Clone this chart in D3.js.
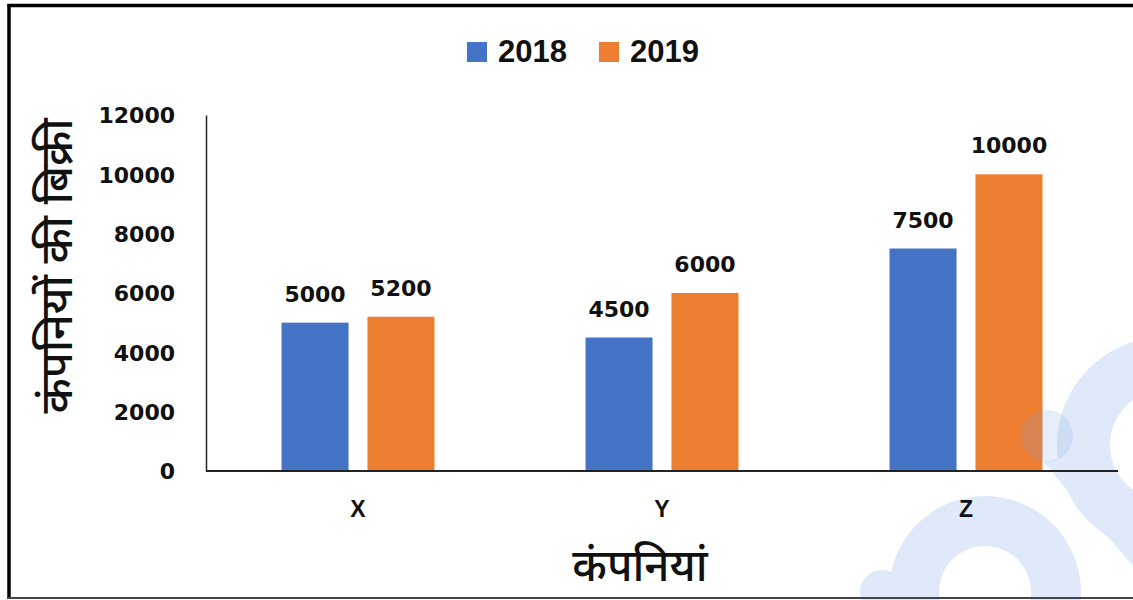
<!DOCTYPE html>
<html>
<head>
<meta charset="utf-8">
<script src="https://cdn.jsdelivr.net/npm/d3@7"></script>
<style>
  html, body { margin: 0; padding: 0; background: #fff; }
  svg { display: block; }
</style>
</head>
<body>
<svg id="chart" width="1133" height="600"></svg>
<script>
const categories = ["X", "Y", "Z"];
const seriesNames = ["2018", "2019"];
const sales2018 = [5000, 4500, 7500];
const sales2019 = [5200, 6000, 10000];
const yTicks = [0, 2000, 4000, 6000, 8000, 10000, 12000];
const yTitle = "कंपनियों की बिक्री";
const xTitle = "कंपनियां";
const colors = ["#4472C4", "#ED7D31"];

const svg = d3.select("#chart");
const W = 1133, H = 600;
const plot = { left: 206, right: 1118, top: 115, bottom: 471 };

const hindiFont = "'Noto Sans Devanagari', 'Noto Sans', 'Lohit Devanagari', sans-serif";
const numFont = "'DejaVu Sans', sans-serif";

// watermark (behind)
const wm = svg.append("g").attr("fill", "#dfe9f9");
function ringPath(cx, cy, ro, ri) {
  const p = d3.path();
  p.moveTo(cx + ro, cy); p.arc(cx, cy, ro, 0, 2 * Math.PI);
  p.moveTo(cx + ri, cy); p.arc(cx, cy, ri, 0, 2 * Math.PI);
  return p.toString();
}
wm.append("path").attr("d", ringPath(985, 592, 96, 46)).attr("fill-rule", "evenodd");
wm.append("circle").attr("cx", 882).attr("cy", 592).attr("r", 22);
wm.append("path").attr("d", ringPath(1165, 445, 108, 55)).attr("fill-rule", "evenodd");
wm.append("path").attr("d", "M1043,462 L1133,566 L1133,510 L1080,455 Z");

// scales
const x0 = d3.scaleBand().domain(categories).range([plot.left, plot.right])
  .paddingInner(0.497).paddingOuter(0.2485);
const x1 = d3.scaleBand().domain(seriesNames).range([0, x0.bandwidth()])
  .paddingInner(0.22).paddingOuter(0);
const y = d3.scaleLinear().domain([0, 12000]).range([plot.bottom, plot.top]);

const data = categories.map((c, i) => ({ cat: c, vals: [sales2018[i], sales2019[i]] }));

// bars
const groups = svg.append("g").selectAll("g").data(data).join("g")
  .attr("transform", d => `translate(${x0(d.cat)},0)`);
groups.selectAll("rect").data(d => d.vals.map((v, j) => ({ v, s: seriesNames[j], j })))
  .join("rect")
  .attr("x", d => x1(d.s))
  .attr("y", d => y(d.v))
  .attr("width", x1.bandwidth())
  .attr("height", d => y(0) - y(d.v))
  .attr("fill", d => colors[d.j]);
groups.selectAll("text").data(d => d.vals.map((v, j) => ({ v, s: seriesNames[j], j })))
  .join("text")
  .attr("x", d => x1(d.s) + x1.bandwidth() / 2)
  .attr("y", d => y(d.v) - 21)
  .attr("text-anchor", "middle")
  .attr("font-family", numFont)
  .attr("font-weight", "bold")
  .attr("font-size", 22)
  .attr("fill", "#111")
  .text(d => d.v);

// watermark overlay circle (on top, translucent)
svg.append("circle").attr("cx", 1047).attr("cy", 436).attr("r", 26)
  .attr("fill", "rgb(120,160,225)").attr("opacity", 0.18);

// y axis
const yAxis = d3.axisLeft(y).tickValues(yTicks).tickSize(0).tickPadding(31)
  .tickFormat(d3.format("d"));
const yg = svg.append("g").attr("transform", `translate(${plot.left},0)`).call(yAxis);
yg.select(".domain").attr("stroke", "#222").attr("stroke-width", 1.5);
yg.selectAll("text").attr("font-family", numFont).attr("font-weight", "bold")
  .attr("font-size", 22).attr("fill", "#111").attr("dy", "0.36em");

// x axis
const xAxis = d3.axisBottom(x0).tickSize(0).tickPadding(30);
const xg = svg.append("g").attr("transform", `translate(0,${plot.bottom})`).call(xAxis);
xg.select(".domain").attr("stroke", "#222").attr("stroke-width", 2)
  .attr("d", `M${plot.left},0H${plot.right}`);
xg.selectAll("text").attr("font-family", "'Liberation Sans', sans-serif").attr("font-weight", "bold")
  .attr("font-size", 23).attr("fill", "#111").attr("dy", "0.71em");

// axis titles
svg.append("text")
  .attr("transform", `translate(72,266) rotate(-90)`)
  .attr("text-anchor", "middle")
  .attr("font-family", hindiFont)
  .attr("font-size", 45)
  .attr("font-weight", 500)
  .attr("fill", "#111")
  .text(yTitle);
svg.append("text")
  .attr("x", 640).attr("y", 581)
  .attr("text-anchor", "middle")
  .attr("font-family", hindiFont)
  .attr("font-size", 44)
  .attr("font-weight", 500)
  .attr("fill", "#111")
  .text(xTitle);

// legend
const legendX = [467, 599];
const leg = svg.append("g");
seriesNames.forEach((s, i) => {
  leg.append("rect").attr("x", legendX[i]).attr("y", 42).attr("width", 20).attr("height", 20)
    .attr("fill", colors[i]);
  leg.append("text").attr("x", legendX[i] + 31).attr("y", 62)
    .attr("font-family", "'Liberation Sans', sans-serif").attr("font-weight", "bold")
    .attr("font-size", 31).attr("fill", "#111").text(s);
});

// outer frame
svg.append("line").attr("x1", 7.5).attr("x2", W).attr("y1", 5.5).attr("y2", 5.5)
  .attr("stroke", "#000").attr("stroke-width", 3.5);
svg.append("line").attr("x1", 9).attr("x2", 9).attr("y1", 4).attr("y2", 599)
  .attr("stroke", "#000").attr("stroke-width", 3.5);
svg.append("line").attr("x1", 7).attr("x2", W).attr("y1", 598).attr("y2", 598)
  .attr("stroke", "#444").attr("stroke-width", 2);
</script>
</body>
</html>
